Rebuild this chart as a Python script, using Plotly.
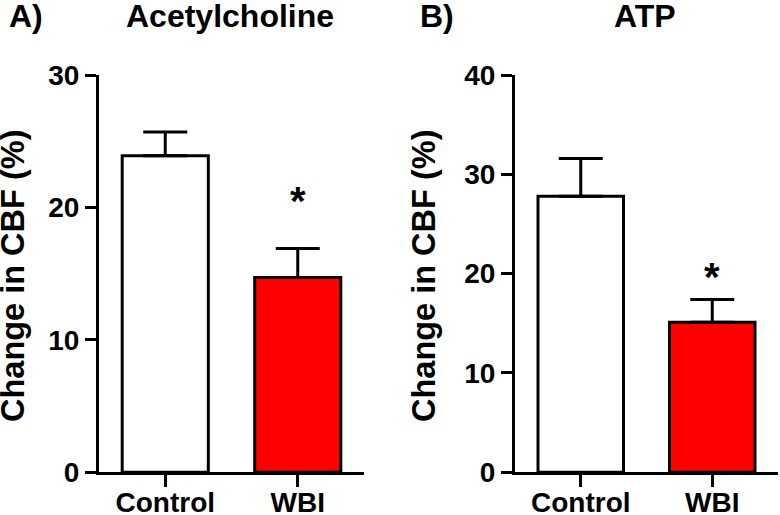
import plotly.graph_objects as go

categories = ["Control", "WBI"]
ach_mean = [23.9, 14.7]
ach_sem = [1.8, 2.2]
atp_mean = [27.8, 15.1]
atp_sem = [3.8, 2.3]
bar_colors = ["#FFFFFF", "#FF0000"]
ach_star_y = 20.5
atp_star_y = 19.7

W, H = 780, 515
FONT = "Liberation Sans, Arial, sans-serif"

fig = go.Figure()
x_idx = list(range(len(categories)))

for mean, sem, xa, ya in [(ach_mean, ach_sem, "x", "y"), (atp_mean, atp_sem, "x2", "y2")]:
    fig.add_trace(go.Bar(
        x=x_idx, y=mean, xaxis=xa, yaxis=ya, width=0.65,
        marker=dict(color=bar_colors, line=dict(color="black", width=3)),
        error_y=dict(type="data", symmetric=False, array=sem, arrayminus=[0] * len(sem),
                     color="black", thickness=3, width=22),
        showlegend=False, hoverinfo="skip",
    ))

def px_x(p):
    return p / W

def px_y(p):
    return 1 - p / H

y_dom = [px_y(472.3), px_y(75)]
axis_common = dict(showline=True, linecolor="black", linewidth=3, ticks="outside",
                   tickwidth=3, tickcolor="black", showgrid=False, zeroline=False,
                   automargin=False,
                   tickfont=dict(family=FONT, size=28, color="black", weight="bold"))

fig.update_layout(
    width=W, height=H, template="none",
    paper_bgcolor="white", plot_bgcolor="white",
    margin=dict(l=0, r=0, t=0, b=0),
    xaxis=dict(domain=[px_x(99), px_x(364)], range=[-0.5, 1.5], tickvals=x_idx,
               ticktext=categories, ticklen=12, ticklabelstandoff=-9, anchor="y", **axis_common),
    yaxis=dict(domain=y_dom, range=[0, 30], tickvals=[0, 10, 20, 30], ticklen=11,
               anchor="x", **axis_common),
    xaxis2=dict(domain=[px_x(515), px_x(778)], range=[-0.5, 1.5], tickvals=x_idx,
                ticktext=categories, ticklen=12, ticklabelstandoff=-9, anchor="y2", **axis_common),
    yaxis2=dict(domain=y_dom, range=[0, 40], tickvals=[0, 10, 20, 30, 40], ticklen=11,
                anchor="x2", **axis_common),
)

def ann(text, x, y, size, **kw):
    fig.add_annotation(text=text, x=x, y=y, xref="paper", yref="paper", showarrow=False,
                       font=dict(family=FONT, size=size, color="black", weight="bold"), **kw)

ann("A)", px_x(7), px_y(16), 32, xanchor="left", yanchor="middle")
ann("Acetylcholine", px_x(230), px_y(16), 32, xanchor="center", yanchor="middle")
ann("B)", px_x(418), px_y(16), 32, xanchor="left", yanchor="middle")
ann("ATP", px_x(645), px_y(16), 32, xanchor="center", yanchor="middle")
ann("Change in CBF (%)", px_x(13), px_y(276), 32.5, textangle=-90, xanchor="center", yanchor="middle")
ann("Change in CBF (%)", px_x(424), px_y(276), 32.5, textangle=-90, xanchor="center", yanchor="middle")

fig.add_annotation(text="*", x=1, y=ach_star_y, xref="x", yref="y", showarrow=False,
                   font=dict(family=FONT, size=40, color="black", weight="bold"), yanchor="middle")
fig.add_annotation(text="*", x=1, y=atp_star_y, xref="x2", yref="y2", showarrow=False,
                   font=dict(family=FONT, size=40, color="black", weight="bold"), yanchor="middle")

fig.write_html("out.html", config={"displayModeBar": False},
               post_script="document.body.style.margin='0px';")
